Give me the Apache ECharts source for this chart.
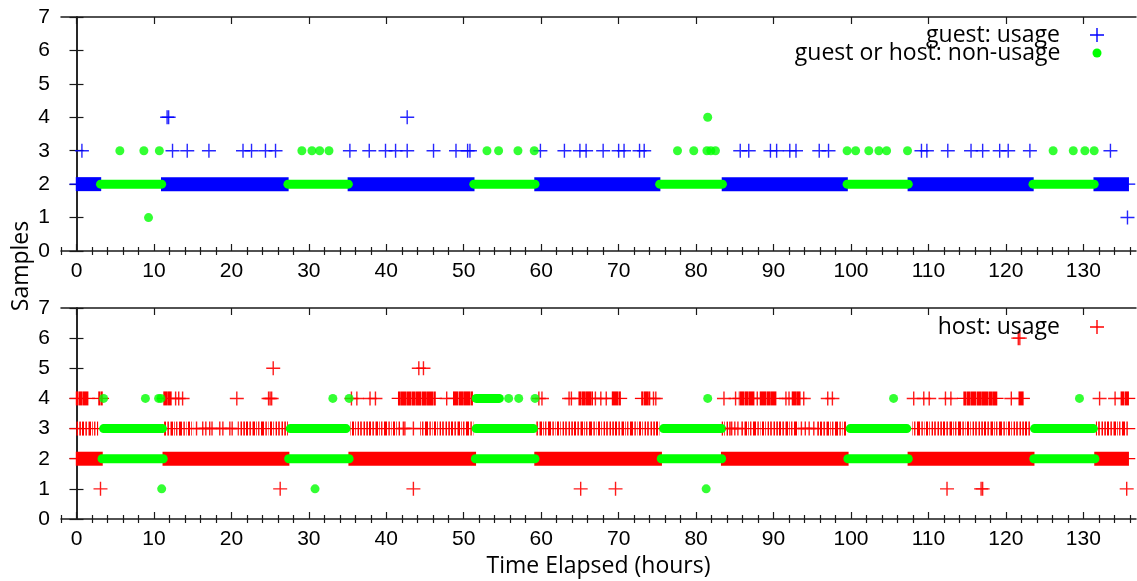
<!DOCTYPE html>
<html>
<head>
<meta charset="utf-8">
<script src="https://cdn.jsdelivr.net/npm/echarts@6/dist/echarts.min.js"></script>
<style>
  html, body { margin: 0; padding: 0; background: #fff; }
  #chart { width: 1137px; height: 581px; }
</style>
</head>
<body>
<div id="chart"></div>
<script>
// ticks
const xTicks = [0, 10, 20, 30, 40, 50, 60, 70, 80, 90, 100, 110, 120, 130];
const yTicks = [0, 1, 2, 3, 4, 5, 6, 7];

// ---- top panel (guest) ----
// dense stretches of "guest: usage" samples at value 2, [from, to] in hours
const guestRuns2 = [[0, 3.1], [11, 27.3], [35.1, 51.3], [59.2, 75.3], [83.4, 99.5], [107.4, 123.5], [131.4, 135.8]];
const guestUsage3 = [0.7, 12.4, 14.3, 17.1, 21.5, 22.6, 24.4, 25.7, 35.3, 37.8, 39.9, 41.2, 42.7, 46.1, 49.0, 50.5, 50.8,
  59.9, 63.0, 65.0, 65.8, 68.0, 70.0, 70.7, 72.7, 73.3, 85.7, 86.8, 89.6, 90.4, 92.1, 92.9, 95.9, 97.1,
  109.1, 109.8, 112.5, 115.5, 117.0, 119.2, 120.3, 123.1, 133.5];
const guestUsage4 = [11.7, 11.9, 42.7];
const guestUsage1 = [135.7];
// non-usage
const idleRunsTop2 = [[3.1, 11], [27.3, 35.1], [51.3, 59.2], [75.3, 83.4], [99.5, 107.4], [123.5, 131.4]];
const idleTop3 = [5.6, 8.7, 10.7, 29.1, 30.4, 31.4, 32.6, 53.0, 54.5, 57.0, 59.1, 77.6, 79.7, 81.4, 81.9, 82.5,
  99.5, 100.6, 102.3, 103.6, 104.6, 107.3, 126.1, 128.7, 130.2, 131.4];
const idleTop4 = [81.5];
const idleTop1 = [9.3];

// ---- bottom panel (host) ----
const hostRuns2 = [[0, 3.3], [11.2, 27.4], [35.2, 51.5], [59.2, 75.5], [83.3, 99.6], [107.4, 123.6], [131.5, 135.8]];
const hostRuns3 = [[0, 2.7], [11.4, 15.0], [20.9, 27.2], [35.3, 41.8], [44.4, 51.2], [59.4, 75.2], [83.4, 84.4],
  [85.8, 93.1], [95.7, 99.4], [108, 123.1], [131.7, 135.8]];
const hostUsage3 = [15.5, 16.3, 16.7, 17.2, 17.5, 18.5, 18.9, 19.8, 20.1, 42.2, 42.4, 43.5, 84.6, 85.0, 85.4,
  93.6, 94.1, 94.6, 95.2];
const hostRuns4 = [[0, 1.5], [2.9, 3.3], [11.3, 12.2], [41.6, 46.3], [48.7, 51.1], [64.9, 66.6], [69.2, 70.2],
  [73.0, 74.0], [85.6, 87.5], [88.3, 90.3], [92.4, 93.4], [114.6, 118.8], [121.7, 122.2], [134.9, 135.8]];
const hostUsage4 = [12.8, 13.2, 13.7, 20.7, 24.8, 25.0, 25.2, 35.5, 36.2, 37.9, 38.6, 47.8, 59.7, 60.1, 63.6, 63.9,
  67.0, 67.7, 68.4, 74.5, 74.8, 83.6, 85.1, 87.9, 91.6, 92.0, 93.9, 97.0, 97.6, 108.1, 109.4, 110.1, 112.2, 112.9,
  120.7, 132.1, 134.1];
const hostUsage5 = [25.4, 44.2, 44.8];
const hostUsage6 = [121.6, 121.8];
const hostUsage1 = [3.1, 26.3, 43.5, 65.1, 69.6, 112.4, 116.8, 117.0, 135.6];
const idleRunsBot2 = [[3.3, 11.2], [27.4, 35.2], [51.5, 59.2], [75.5, 83.3], [99.6, 107.4], [123.6, 131.5]];
const idleRunsBot3 = [[3.5, 11.1], [27.6, 34.8], [51.6, 59.0], [75.8, 83.3], [99.9, 107.2], [123.7, 131.3]];
const idleRunsBot4 = [[51.6, 54.6]];
const idleBot4 = [3.5, 8.9, 10.6, 10.9, 33.1, 35.2, 55.8, 57.1, 59.2, 81.5, 105.5, 129.5];
const idleBot1 = [11.0, 30.8, 81.3];

const BLUE = '#0000ff', GREEN = '#00ff00', RED = '#ff0000', INK = '#1a1a1a';
const TICK_FONT = '"Liberation Sans Narrow", "Liberation Sans", sans-serif';
const TEXT_FONT = '"Open Sans", sans-serif';
const PLUS = 'path://M6.3,0H7.7V6.3H14V7.7H7.7V14H6.3V7.7H0V6.3H6.3Z';
const XMIN = -2, XMAX = 136.8;

const xMinor = [];
for (let v = -2; v <= 136; v += 2) if (v % 10 !== 0) xMinor.push(v);

const pts = (y, xs) => xs.map(x => [x, y]);
const runs = (y, list) => list.map(r => [r[0], r[1], y]);

// vertical hatch used to fill a packed run of "+" marks (texture only)
function hatch(color, width, marks) {
  const c = document.createElement('canvas');
  c.width = width; c.height = 14;
  const ctx = c.getContext('2d');
  ctx.fillStyle = color;
  marks.forEach(m => { ctx.globalAlpha = m[1]; ctx.fillRect(m[0], 0, m[2] || 1, 14); });
  return { image: c, repeat: 'repeat' };
}
const HATCH3 = hatch(RED, 41, [[0, 1, 2], [3, .6], [4, .9], [6, .5], [7, 1, 2], [10, .7], [12, .9], [13, .4], [15, 1, 3],
  [19, .6], [20, .8], [22, .5], [24, 1, 2], [27, .7], [29, .4], [30, 1], [32, .8, 2], [35, .5], [36, 1], [38, .7], [39, .9]]);
const HATCH4 = hatch(RED, 37, [[0, 1, 4], [4, .6], [5, 1, 3], [8, .7], [9, 1, 5], [14, .5], [15, 1, 4], [19, .8], [20, 1, 6],
  [26, .6], [27, 1, 3], [30, .8], [31, 1, 5], [36, .7]]);

// a packed run of "+" samples: block plus the outer arms
function usageRun(color, fill) {
  return function (params, api) {
    const a = api.coord([api.value(0), api.value(2)]);
    const b = api.coord([api.value(1), api.value(2)]);
    return {
      type: 'group',
      children: [
        { type: 'line', shape: { x1: a[0] - 7, y1: a[1], x2: b[0] + 7, y2: a[1] }, style: { stroke: color, lineWidth: 1.3 } },
        { type: 'rect', shape: { x: a[0] - 0.7, y: a[1] - 7, width: b[0] - a[0] + 1.4, height: 14 }, style: { fill: fill } }
      ]
    };
  };
}
// a packed run of dots
function idleRun(params, api) {
  const a = api.coord([api.value(0), api.value(2)]);
  const b = api.coord([api.value(1), api.value(2)]);
  return { type: 'rect', shape: { x: a[0] - 4.5, y: a[1] - 4.5, width: b[0] - a[0] + 9, height: 9, r: 4.5 }, style: { fill: GREEN } };
}

function xAxes(g, withName) {
  const line = { show: true, onZero: false, lineStyle: { color: INK, width: 1.5 } };
  const base = { gridIndex: g, type: 'value', min: XMIN, max: XMAX, splitLine: { show: false } };
  return [
    Object.assign({}, base, {
      position: 'bottom', axisLine: line,
      axisTick: { show: true, inside: true, length: 7, customValues: xTicks, lineStyle: { color: INK, width: 1.2 } },
      axisLabel: { show: true, customValues: xTicks, color: '#000', fontFamily: TICK_FONT, fontSize: 21, margin: 10 },
      name: withName ? 'Time Elapsed (hours)' : '', nameLocation: 'middle', nameGap: 36,
      nameTextStyle: { color: '#000', fontFamily: TEXT_FONT, fontSize: 23 }
    }),
    Object.assign({}, base, {
      position: 'bottom', axisLine: { show: false },
      axisTick: { show: true, inside: true, length: 4, customValues: xMinor, lineStyle: { color: INK, width: 1.2 } },
      axisLabel: { show: false }
    }),
    Object.assign({}, base, {
      position: 'top', axisLine: line,
      axisTick: { show: true, inside: true, length: 7, customValues: xTicks, lineStyle: { color: INK, width: 1.2 } },
      axisLabel: { show: false }
    }),
    Object.assign({}, base, {
      position: 'top', axisLine: { show: false },
      axisTick: { show: true, inside: true, length: 4, customValues: xMinor, lineStyle: { color: INK, width: 1.2 } },
      axisLabel: { show: false }
    })
  ];
}
function yAxes(g) {
  const base = {
    gridIndex: g, type: 'value', min: 0, max: 7, interval: 1, splitLine: { show: false },
    axisLine: { show: true, lineStyle: { color: INK, width: 1.5 } },
    axisTick: { show: true, inside: true, length: 7, lineStyle: { color: INK, width: 1.2 } }
  };
  return [
    Object.assign({}, base, { position: 'left', axisLabel: { color: '#000', fontFamily: TICK_FONT, fontSize: 21, margin: 11 } }),
    Object.assign({}, base, { position: 'right', axisLabel: { show: false } })
  ];
}

const chart = echarts.init(document.getElementById('chart'), null, { renderer: 'canvas' });
const legendText = { color: '#000', fontFamily: TEXT_FONT, fontSize: 23, lineHeight: 24 };

chart.setOption({
  backgroundColor: '#fff',
  animation: false,
  grid: [
    { left: 61, right: 1, top: 17, height: 234 },
    { left: 61, right: 1, top: 308, height: 211 }
  ],
  xAxis: xAxes(0, false).concat(xAxes(1, true)),
  yAxis: yAxes(0).concat(yAxes(1)),
  legend: [
    { data: [{ name: 'guest: usage', icon: PLUS, itemStyle: { color: BLUE } }], right: 33, top: 23, padding: 0,
      align: 'right', itemWidth: 14, itemHeight: 14, selectedMode: false, textStyle: Object.assign({ padding: [0, 25, 0, 0] }, legendText) },
    { data: [{ name: 'guest or host: non-usage', icon: 'circle', itemStyle: { color: GREEN } }], right: 35.5, top: 41, padding: 0,
      align: 'right', itemWidth: 9, itemHeight: 9, selectedMode: false, textStyle: Object.assign({ padding: [0, 27, 0, 0] }, legendText) },
    { data: [{ name: 'host: usage', icon: PLUS, itemStyle: { color: RED } }], right: 33, top: 315, padding: 0,
      align: 'right', itemWidth: 14, itemHeight: 14, selectedMode: false, textStyle: Object.assign({ padding: [0, 25, 0, 0] }, legendText) }
  ],
  graphic: [
    { type: 'text', x: 21, y: 266, rotation: Math.PI / 2,
      style: { text: 'Samples', fill: '#000', font: '23px "Open Sans"', textAlign: 'center', textVerticalAlign: 'middle' } }
  ],
  series: [
    // top panel
    { name: 'guest: usage', type: 'custom', xAxisIndex: 0, yAxisIndex: 0, renderItem: usageRun(BLUE, BLUE),
      encode: { x: [0, 1], y: 2 }, data: runs(2, guestRuns2), itemStyle: { color: BLUE } },
    { name: 'guest: usage', type: 'scatter', xAxisIndex: 0, yAxisIndex: 0, symbol: PLUS, symbolSize: 14,
      itemStyle: { color: BLUE, opacity: 0.85 },
      data: pts(3, guestUsage3).concat(pts(4, guestUsage4), pts(1, guestUsage1)) },
    { name: 'guest or host: non-usage', type: 'custom', xAxisIndex: 0, yAxisIndex: 0, renderItem: idleRun,
      encode: { x: [0, 1], y: 2 }, data: runs(2, idleRunsTop2), itemStyle: { color: GREEN } },
    { name: 'guest or host: non-usage', type: 'scatter', xAxisIndex: 0, yAxisIndex: 0, symbol: 'circle', symbolSize: 9,
      itemStyle: { color: GREEN },
      data: pts(3, idleTop3).concat(pts(4, idleTop4), pts(1, idleTop1)) },
    // bottom panel
    { name: 'host: usage', type: 'custom', xAxisIndex: 4, yAxisIndex: 2, renderItem: usageRun(RED, RED),
      encode: { x: [0, 1], y: 2 }, data: runs(2, hostRuns2), itemStyle: { color: RED } },
    { name: 'host: usage', type: 'custom', xAxisIndex: 4, yAxisIndex: 2, renderItem: usageRun(RED, HATCH3),
      encode: { x: [0, 1], y: 2 }, data: runs(3, hostRuns3), itemStyle: { color: RED } },
    { name: 'host: usage', type: 'custom', xAxisIndex: 4, yAxisIndex: 2, renderItem: usageRun(RED, HATCH4),
      encode: { x: [0, 1], y: 2 }, data: runs(4, hostRuns4), itemStyle: { color: RED } },
    { name: 'host: usage', type: 'scatter', xAxisIndex: 4, yAxisIndex: 2, symbol: PLUS, symbolSize: 14,
      itemStyle: { color: RED, opacity: 0.9 },
      data: pts(3, hostUsage3).concat(pts(4, hostUsage4), pts(5, hostUsage5), pts(6, hostUsage6), pts(1, hostUsage1)) },
    { name: 'non-usage (host panel)', type: 'custom', xAxisIndex: 4, yAxisIndex: 2, renderItem: idleRun,
      encode: { x: [0, 1], y: 2 }, data: runs(2, idleRunsBot2).concat(runs(3, idleRunsBot3), runs(4, idleRunsBot4)),
      itemStyle: { color: GREEN } },
    { name: 'non-usage (host panel)', type: 'scatter', xAxisIndex: 4, yAxisIndex: 2, symbol: 'circle', symbolSize: 9,
      itemStyle: { color: GREEN },
      data: pts(4, idleBot4).concat(pts(1, idleBot1)) }
  ]
});
</script>
</body>
</html>
